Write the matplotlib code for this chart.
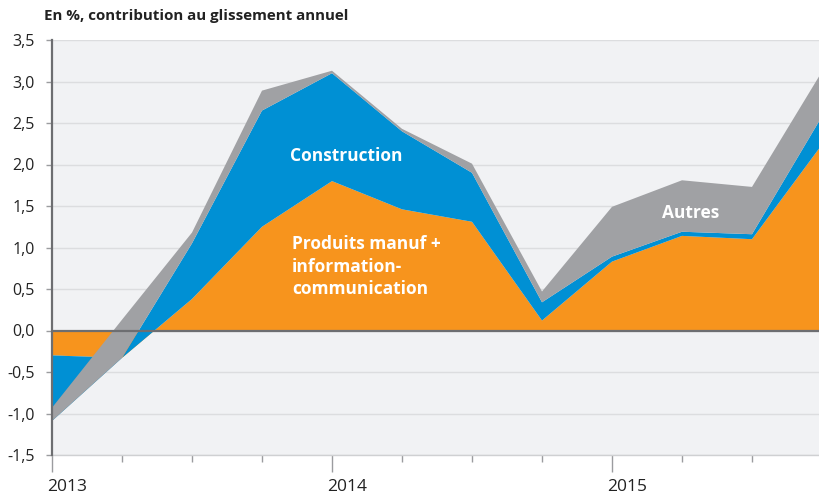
import numpy as np
import matplotlib.pyplot as plt
from matplotlib.ticker import FixedLocator

# quarterly points, 2013T1 .. 2015T4
quarters = np.arange(12)
manuf_info = [-0.30, -0.33, 0.38, 1.25, 1.80, 1.46, 1.31, 0.12, 0.83, 1.14, 1.10, 2.24]
construction = [-0.79, 0.00, 0.67, 1.40, 1.30, 0.94, 0.59, 0.22, 0.06, 0.05, 0.06, 0.34]
autres = [0.16, 0.46, 0.13, 0.24, 0.03, 0.03, 0.11, 0.13, 0.60, 0.62, 0.57, 0.54]

years = ['2013', '2014', '2015']
year_pos = [0, 4, 8]
y_ticks = [-1.5, -1.0, -0.5, 0.0, 0.5, 1.0, 1.5, 2.0, 2.5, 3.0, 3.5]
y_labels = ['-1,5', '-1,0', '-0,5', '0,0', '0,5', '1,0', '1,5', '2,0', '2,5', '3,0', '3,5']

plt.rcParams['font.family'] = ['Open Sans', 'DejaVu Sans']

orange = '#f7941d'
blue = '#0090d4'
grey = '#a0a1a4'

fig = plt.figure(figsize=(8.2, 4.96), dpi=100)
ax = fig.add_axes([52/820, 41/496, 770/820, 415/496])
ax.set_facecolor('#f1f2f4')

ax.stackplot(quarters, manuf_info, construction, autres,
             colors=[orange, blue, grey], linewidth=0, zorder=2)

ax.set_xlim(0, 11)
ax.set_ylim(-1.5, 3.5)

# grid + zero line
for v in y_ticks:
    ax.axhline(v, color='#dcdddf', lw=1, zorder=1)
ax.axhline(0, color='#6d6e71', lw=1.6, zorder=3)

for s in ['top', 'right']:
    ax.spines[s].set_visible(False)
ax.spines['left'].set_color('#6d6e71')
ax.spines['left'].set_linewidth(1.6)
ax.spines['left'].set_zorder(4)
ax.spines['bottom'].set_color('#cfd0d2')
ax.spines['bottom'].set_linewidth(1)

ax.set_yticks(y_ticks)
ax.set_yticklabels(y_labels, fontsize=11.5, color='#222222')
ax.tick_params(axis='y', length=4, width=1, color='#9b9c9f', pad=8.5)

ax.xaxis.set_major_locator(FixedLocator(year_pos))
ax.xaxis.set_minor_locator(FixedLocator([q for q in quarters if q not in year_pos]))
ax.set_xticklabels([])
ax.tick_params(axis='x', which='major', length=12, width=1, color='#9b9c9f')
ax.tick_params(axis='x', which='minor', length=5, width=1, color='#9b9c9f')

for p, yr in zip(year_pos, years):
    ax.text(p - 0.07, -0.077, yr, transform=ax.get_xaxis_transform(),
            ha='left', va='center', fontsize=12.5, color='#222222')

fig.text(44/820, 1 - 16/496, 'En %, contribution au glissement annuel',
         ha='left', va='center', fontsize=10.9, fontweight='bold', color='#222222')

ax.text(4.21, 2.10, 'Construction', ha='center', va='center',
        fontsize=12.5, fontweight='bold', color='white', zorder=5)
ax.text(3.43, 0.77, 'Produits manuf +\ninformation-\ncommunication', ha='left', va='center',
        fontsize=12.5, fontweight='bold', color='white', linespacing=1.3, zorder=5)
ax.text(9.12, 1.42, 'Autres', ha='center', va='center',
        fontsize=12.5, fontweight='bold', color='white', zorder=5)

fig.savefig('out.png', dpi=100)
